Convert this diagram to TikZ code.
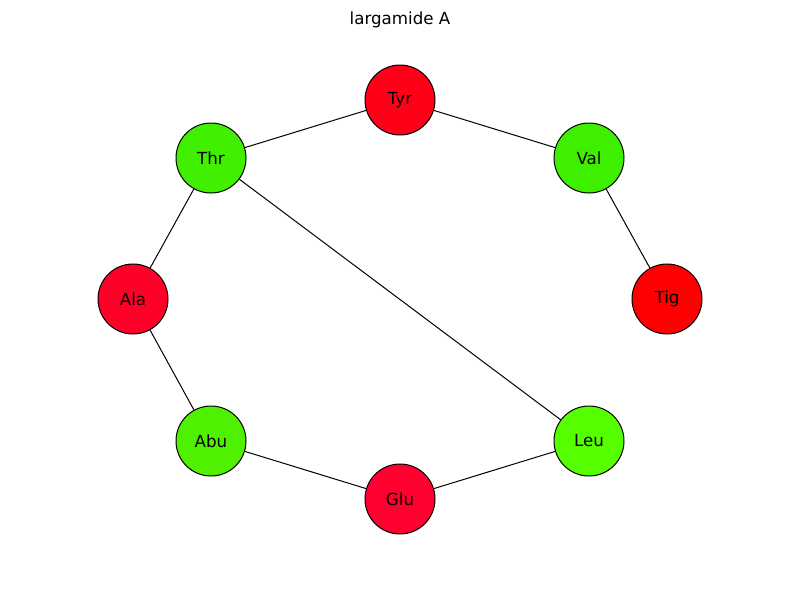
\documentclass[tikz,border=0pt]{standalone}
\usepackage{fontspec}
\setmainfont{DejaVu Sans}
\usepackage{xcolor}
\definecolor{tyrred}{HTML}{FF0018}
\definecolor{tigred}{HTML}{FF0000}
\definecolor{glured}{HTML}{FF0030}
\definecolor{alared}{HTML}{FF0028}
\definecolor{valgreen}{HTML}{3EF000}
\definecolor{leugreen}{HTML}{55FF00}
\definecolor{abugreen}{HTML}{4FF000}
\definecolor{thrgreen}{HTML}{40F000}

\begin{document}
\begin{tikzpicture}
  [x=0.75pt,y=-0.75pt,every node/.style={font=\fontsize{12.5}{15}\selectfont}]
  \useasboundingbox (0,0) rectangle (800,600);
  \tikzset{res/.style={circle,draw,line width=0.75pt,minimum size=52.5pt,inner sep=0pt}}
  \node (title) at (400,20) {largamide A};
  \node[res,fill=tyrred] (Tyr) at (400,100) {Tyr};
  \node[res,fill=valgreen] (Val) at (589,158) {Val};
  \node[res,fill=tigred] (Tig) at (667,299) {Tig};
  \node[res,fill=leugreen] (Leu) at (589,441) {Leu};
  \node[res,fill=glured] (Glu) at (400,499) {Glu};
  \node[res,fill=abugreen] (Abu) at (211,441) {Abu};
  \node[res,fill=alared] (Ala) at (133,299) {Ala};
  \node[res,fill=thrgreen] (Thr) at (211,158) {Thr};

  \foreach \from/\to in {Tyr/Thr,Tyr/Val,Val/Tig,Thr/Ala,Thr/Leu,Ala/Abu,Abu/Glu,Glu/Leu}
    \draw[line width=0.75pt] (\from) -- (\to);

\end{tikzpicture}
\end{document}
